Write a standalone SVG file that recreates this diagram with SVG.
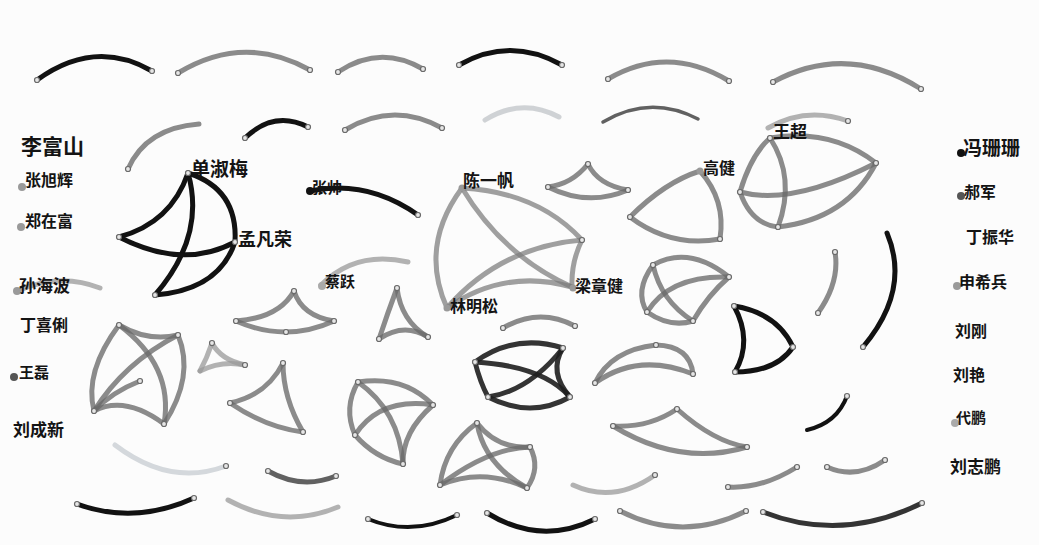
<svg xmlns="http://www.w3.org/2000/svg" width="1039" height="545" viewBox="0 0 1039 545">
<style>
.e{fill:none;stroke-linecap:round;stroke-width:5}
.k{stroke:#121212}
.kd{stroke:#1e1e1e;stroke-opacity:.9}
.d{stroke:#3a3a3a;stroke-opacity:.8}
.g{stroke:#6a6a6a;stroke-opacity:.78}
.m{stroke:#7c7c7c;stroke-opacity:.72}
.l{stroke:#9a9a9a;stroke-opacity:.75}
.vl{stroke:#d4d8dc}
.n{fill:#e6e6e6;stroke:#6a6a6a;stroke-width:1.2}
.t{font-family:"Noto Sans CJK SC","Noto Sans CJK JP",sans-serif;font-weight:700;fill:#141414}
</style>
<rect width="1039" height="545" fill="#fcfcfc"/>
<g id="edges">
<path class="e k" d="M37 80 Q95 38 152 71"/>
<path class="e g" d="M178 73 Q244 33 310 70"/>
<path class="e g" d="M338 72 Q380 44 423 69"/>
<path class="e k" d="M459 65 Q510 36 562 65"/>
<path class="e g" d="M608 79 Q668 44 729 81"/>
<path class="e g" d="M773 82 Q847 42 921 89"/>
<path class="e g" d="M128 169 Q146 128 199 124"/>
<path class="e k" d="M245 138 Q274 110 308 127"/>
<path class="e g" d="M345 130 Q393 101 442 128"/>
<path class="e l" d="M485 120 Q522 97 559 117" style="stroke:#c0c4c8"/>
<path class="e d" d="M603 122 Q650 94 698 119" style="stroke-width:3.5"/>
<path class="e l" d="M768 128 Q806 106 848 121"/>
<path class="e l" d="M17 291 Q60 272 100 288"/>
<path class="e k" d="M188 173 Q171 223 119 237"/>
<path class="e k" d="M188 173 Q238 189 235 242"/>
<path class="e k" d="M188 173 Q206 236 155 295"/>
<path class="e k" d="M119 237 Q183 270 235 242"/>
<path class="e k" d="M235 242 Q219 290 155 295"/>
<path class="e k" d="M310 191 Q367 179 418 215"/>
<path class="e l" d="M321 285 Q356 250 408 262"/>
<path class="e g" d="M294 291 Q279 318 236 321"/>
<path class="e g" d="M294 291 Q302 316 334 321"/>
<path class="e g" d="M236 321 Q286 343 334 321"/>
<path class="e g" d="M397 288 Q388 312 379 339"/>
<path class="e g" d="M397 288 Q401 321 428 337"/>
<path class="e g" d="M379 339 Q404 322 428 337"/>
<path class="e g" d="M119 325 Q148 342 178 335"/>
<path class="e g" d="M119 325 Q84 372 94 411"/>
<path class="e g" d="M119 325 Q174 366 164 424"/>
<path class="e g" d="M178 335 Q195 376 164 424"/>
<path class="e g" d="M178 335 Q124 363 94 411"/>
<path class="e g" d="M140 381 Q112 392 94 411"/>
<path class="e g" d="M94 411 Q125 395 164 424"/>
<path class="e l" d="M212 343 Q221 360 245 365"/>
<path class="e l" d="M212 343 Q207 358 200 371"/>
<path class="e l" d="M200 371 Q222 360 245 365"/>
<path class="e g" d="M283 363 Q267 395 230 403"/>
<path class="e g" d="M283 363 Q283 398 303 432"/>
<path class="e g" d="M230 403 Q267 428 303 432"/>
<path class="e vl" d="M115 445 Q170 487 226 466"/>
<path class="e d" d="M268 471 Q302 490 336 476"/>
<path class="e k" d="M77 504 Q135 525 194 498"/>
<path class="e l" d="M228 500 Q283 530 338 507"/>
<path class="e k" d="M368 519 Q412 537 457 515" style="stroke-width:4"/>
<path class="e k" d="M487 513 Q541 546 595 519"/>
<path class="e g" d="M620 511 Q683 543 746 511"/>
<path class="e kd" d="M763 512 Q842 543 922 503"/>
<path class="e l" d="M573 485 Q614 504 655 475"/>
<path class="e g" d="M728 487 Q762 489 797 467"/>
<path class="e g" d="M827 467 Q856 480 885 460"/>
<path class="e k" d="M807 430 Q837 423 847 396" style="stroke-width:4"/>
<path class="e k" d="M734 306 Q777 313 793 347"/>
<path class="e k" d="M793 347 Q776 372 735 372"/>
<path class="e k" d="M734 306 Q753 341 735 372"/>
<path class="e g" d="M595 383 Q611 350 656 345"/>
<path class="e g" d="M656 345 Q690 346 693 374"/>
<path class="e g" d="M595 383 Q638 352 693 374"/>
<path class="e g" d="M613 426 Q649 428 677 409"/>
<path class="e g" d="M677 409 Q714 442 747 447"/>
<path class="e g" d="M613 426 Q680 467 747 447"/>
<path class="e g" d="M835 252 Q840 282 818 313"/>
<path class="e k" d="M887 233 Q911 290 863 347"/>
<path class="e g" d="M653 265 Q689 245 729 277"/>
<path class="e g" d="M653 265 Q634 291 647 312"/>
<path class="e g" d="M647 312 Q670 328 693 321"/>
<path class="e g" d="M653 265 Q661 301 693 321"/>
<path class="e g" d="M647 312 Q670 275 729 277"/>
<path class="e g" d="M693 321 Q708 295 729 277"/>
<path class="e g" d="M700 171 Q665 182 630 217"/>
<path class="e g" d="M700 171 Q726 200 720 239"/>
<path class="e g" d="M630 217 Q671 248 720 239"/>
<path class="e g" d="M770 138 Q831 128 876 163"/>
<path class="e g" d="M770 138 Q751 155 740 192"/>
<path class="e g" d="M770 138 Q796 178 778 227"/>
<path class="e g" d="M740 192 Q792 206 876 163"/>
<path class="e g" d="M740 192 Q751 224 778 227"/>
<path class="e g" d="M778 227 Q847 219 876 163"/>
<path class="e m" d="M462 188 Q419 246 447 308"/>
<path class="e m" d="M462 188 Q538 192 582 240"/>
<path class="e m" d="M462 188 Q503 256 572 287"/>
<path class="e m" d="M447 308 Q500 247 582 240"/>
<path class="e m" d="M447 308 Q505 268 572 287"/>
<path class="e m" d="M582 240 Q571 262 572 287"/>
<path class="e g" d="M588 164 Q572 184 548 187"/>
<path class="e g" d="M588 164 Q598 185 628 190"/>
<path class="e g" d="M548 187 Q588 207 628 190"/>
<path class="e g" d="M503 328 Q539 307 575 326"/>
<path class="e kd" d="M475 362 Q515 333 563 348"/>
<path class="e kd" d="M475 362 Q480 382 488 397"/>
<path class="e kd" d="M488 397 Q531 419 570 397"/>
<path class="e kd" d="M563 348 Q548 372 570 397"/>
<path class="e kd" d="M475 362 Q543 366 570 397"/>
<path class="e kd" d="M488 397 Q529 391 563 348"/>
<path class="e g" d="M358 382 Q404 375 433 405"/>
<path class="e g" d="M358 382 Q343 408 355 435"/>
<path class="e g" d="M358 382 Q399 411 403 464"/>
<path class="e g" d="M355 435 Q380 397 433 405"/>
<path class="e g" d="M355 435 Q375 458 403 464"/>
<path class="e g" d="M433 405 Q402 432 403 464"/>
<path class="e g" d="M477 423 Q445 446 440 485"/>
<path class="e g" d="M477 423 Q497 449 530 447"/>
<path class="e g" d="M477 423 Q484 464 527 488"/>
<path class="e g" d="M440 485 Q489 448 530 447"/>
<path class="e g" d="M440 485 Q483 467 527 488"/>
<path class="e g" d="M530 447 Q541 468 527 488"/>
</g>
<g id="dots">
<g id="n1"><circle class="n" cx="37" cy="80" r="2.5"/></g>
<g id="n2"><circle class="n" cx="152" cy="71" r="2.5"/></g>
<g id="n3"><circle class="n" cx="178" cy="73" r="2.5"/></g>
<g id="n4"><circle class="n" cx="310" cy="70" r="2.5"/></g>
<g id="n5"><circle class="n" cx="338" cy="72" r="2.5"/></g>
<g id="n6"><circle class="n" cx="423" cy="69" r="2.5"/></g>
<g id="n7"><circle class="n" cx="459" cy="65" r="2.5"/></g>
<g id="n8"><circle class="n" cx="562" cy="65" r="2.5"/></g>
<g id="n9"><circle class="n" cx="608" cy="79" r="2.5"/></g>
<g id="n10"><circle class="n" cx="729" cy="81" r="2.5"/></g>
<g id="n11"><circle class="n" cx="773" cy="82" r="2.5"/></g>
<g id="n12"><circle class="n" cx="921" cy="89" r="2.5"/></g>
<g id="n13"><circle class="n" cx="128" cy="169" r="2.5"/></g>
<g id="n14"><circle class="n" cx="245" cy="138" r="2.5"/></g>
<g id="n15"><circle class="n" cx="308" cy="127" r="2.5"/></g>
<g id="n16"><circle class="n" cx="345" cy="130" r="2.5"/></g>
<g id="n17"><circle class="n" cx="442" cy="128" r="2.5"/></g>
<g id="n18"><circle class="n" cx="848" cy="121" r="2.5"/></g>
<g id="n19"><circle class="n" cx="119" cy="237" r="2.5"/></g>
<g id="n20"><circle class="n" cx="155" cy="295" r="2.5"/></g>
<g id="n21"><circle class="n" cx="418" cy="215" r="2.5"/></g>
<g id="n22"><circle class="n" cx="294" cy="291" r="2.5"/></g>
<g id="n23"><circle class="n" cx="236" cy="321" r="2.5"/></g>
<g id="n24"><circle class="n" cx="334" cy="321" r="2.5"/></g>
<g id="n25"><circle class="n" cx="286" cy="332" r="2.5"/></g>
<g id="n26"><circle class="n" cx="397" cy="288" r="2.5"/></g>
<g id="n27"><circle class="n" cx="379" cy="339" r="2.5"/></g>
<g id="n28"><circle class="n" cx="428" cy="337" r="2.5"/></g>
<g id="n29"><circle class="n" cx="119" cy="325" r="2.5"/></g>
<g id="n30"><circle class="n" cx="178" cy="335" r="2.5"/></g>
<g id="n31"><circle class="n" cx="140" cy="381" r="2.5"/></g>
<g id="n32"><circle class="n" cx="94" cy="411" r="2.5"/></g>
<g id="n33"><circle class="n" cx="164" cy="424" r="2.5"/></g>
<g id="n34"><circle class="n" cx="212" cy="343" r="2.5"/></g>
<g id="n35"><circle class="n" cx="245" cy="365" r="2.5"/></g>
<g id="n36"><circle class="n" cx="283" cy="363" r="2.5"/></g>
<g id="n37"><circle class="n" cx="230" cy="403" r="2.5"/></g>
<g id="n38"><circle class="n" cx="303" cy="432" r="2.5"/></g>
<g id="n39"><circle class="n" cx="226" cy="466" r="2.5"/></g>
<g id="n40"><circle class="n" cx="268" cy="471" r="2.5"/></g>
<g id="n41"><circle class="n" cx="336" cy="476" r="2.5"/></g>
<g id="n42"><circle class="n" cx="77" cy="504" r="2.5"/></g>
<g id="n43"><circle class="n" cx="194" cy="498" r="2.5"/></g>
<g id="n44"><circle class="n" cx="368" cy="519" r="2.5"/></g>
<g id="n45"><circle class="n" cx="457" cy="515" r="2.5"/></g>
<g id="n46"><circle class="n" cx="487" cy="513" r="2.5"/></g>
<g id="n47"><circle class="n" cx="595" cy="519" r="2.5"/></g>
<g id="n48"><circle class="n" cx="620" cy="511" r="2.5"/></g>
<g id="n49"><circle class="n" cx="746" cy="511" r="2.5"/></g>
<g id="n50"><circle class="n" cx="763" cy="512" r="2.5"/></g>
<g id="n51"><circle class="n" cx="922" cy="503" r="2.5"/></g>
<g id="n52"><circle class="n" cx="655" cy="475" r="2.5"/></g>
<g id="n53"><circle class="n" cx="728" cy="487" r="2.5"/></g>
<g id="n54"><circle class="n" cx="797" cy="467" r="2.5"/></g>
<g id="n55"><circle class="n" cx="827" cy="467" r="2.5"/></g>
<g id="n56"><circle class="n" cx="885" cy="460" r="2.5"/></g>
<g id="n57"><circle class="n" cx="595" cy="383" r="2.5"/></g>
<g id="n58"><circle class="n" cx="656" cy="345" r="2.5"/></g>
<g id="n59"><circle class="n" cx="693" cy="374" r="2.5"/></g>
<g id="n60"><circle class="n" cx="613" cy="426" r="2.5"/></g>
<g id="n61"><circle class="n" cx="677" cy="409" r="2.5"/></g>
<g id="n62"><circle class="n" cx="747" cy="447" r="2.5"/></g>
<g id="n63"><circle class="n" cx="835" cy="252" r="2.5"/></g>
<g id="n64"><circle class="n" cx="818" cy="313" r="2.5"/></g>
<g id="n65"><circle class="n" cx="863" cy="347" r="2.5"/></g>
<g id="n66"><circle class="n" cx="653" cy="265" r="2.5"/></g>
<g id="n67"><circle class="n" cx="729" cy="277" r="2.5"/></g>
<g id="n68"><circle class="n" cx="647" cy="312" r="2.5"/></g>
<g id="n69"><circle class="n" cx="693" cy="321" r="2.5"/></g>
<g id="n70"><circle class="n" cx="630" cy="217" r="2.5"/></g>
<g id="n71"><circle class="n" cx="720" cy="239" r="2.5"/></g>
<g id="n72"><circle class="n" cx="876" cy="163" r="2.5"/></g>
<g id="n73"><circle class="n" cx="740" cy="192" r="2.5"/></g>
<g id="n74"><circle class="n" cx="778" cy="227" r="2.5"/></g>
<g id="n75"><circle class="n" cx="582" cy="240" r="2.5"/></g>
<g id="n76"><circle class="n" cx="588" cy="164" r="2.5"/></g>
<g id="n77"><circle class="n" cx="548" cy="187" r="2.5"/></g>
<g id="n78"><circle class="n" cx="628" cy="190" r="2.5"/></g>
<g id="n79"><circle class="n" cx="503" cy="328" r="2.5"/></g>
<g id="n80"><circle class="n" cx="575" cy="326" r="2.5"/></g>
<g id="n81"><circle class="n" cx="475" cy="362" r="2.5"/></g>
<g id="n82"><circle class="n" cx="563" cy="348" r="2.5"/></g>
<g id="n83"><circle class="n" cx="488" cy="397" r="2.5"/></g>
<g id="n84"><circle class="n" cx="570" cy="397" r="2.5"/></g>
<g id="n85"><circle class="n" cx="358" cy="382" r="2.5"/></g>
<g id="n86"><circle class="n" cx="433" cy="405" r="2.5"/></g>
<g id="n87"><circle class="n" cx="355" cy="435" r="2.5"/></g>
<g id="n88"><circle class="n" cx="403" cy="464" r="2.5"/></g>
<g id="n89"><circle class="n" cx="477" cy="423" r="2.5"/></g>
<g id="n90"><circle class="n" cx="530" cy="447" r="2.5"/></g>
<g id="n91"><circle class="n" cx="440" cy="485" r="2.5"/></g>
<g id="n92"><circle class="n" cx="527" cy="488" r="2.5"/></g>
<g id="n93"><circle class="n" cx="847" cy="396" r="2.5"/></g>
<g id="n94"><circle class="n" cx="734" cy="306" r="2.5"/></g>
<g id="n95"><circle class="n" cx="793" cy="347" r="2.5"/></g>
<g id="n96"><circle class="n" cx="735" cy="372" r="2.5"/></g>
</g>
<g id="n-lifushan"><text class="t" x="21" y="154" font-size="21">李富山</text></g>
<g id="n-zhangxuhui"><circle cx="22" cy="187" r="4" fill="#9a9a9a"/><text class="t" x="25" y="186" font-size="16">张旭辉</text></g>
<g id="n-zhengzaifu"><circle cx="21" cy="227" r="4" fill="#9a9a9a"/><text class="t" x="25" y="227" font-size="16">郑在富</text></g>
<g id="n-sunhaibo"><circle cx="17" cy="291" r="4" fill="#9a9a9a"/><text class="t" x="19" y="292" font-size="17">孙海波</text></g>
<g id="n-dingxili"><text class="t" x="20" y="331" font-size="16">丁喜俐</text></g>
<g id="n-wanglei"><circle cx="14" cy="377" r="4" fill="#555"/><text class="t" x="19" y="378" font-size="15">王磊</text></g>
<g id="n-liuchengxin"><text class="t" x="13" y="436" font-size="17">刘成新</text></g>
<g id="n-fengshanshan"><circle cx="961" cy="153" r="4" fill="#111"/><text class="t" x="963" y="155" font-size="19">冯珊珊</text></g>
<g id="n-haojun"><circle cx="961" cy="196" r="4" fill="#555"/><text class="t" x="964" y="198" font-size="16">郝军</text></g>
<g id="n-dingzhenhua"><text class="t" x="966" y="243" font-size="16">丁振华</text></g>
<g id="n-shenxibing"><circle cx="957" cy="286" r="4" fill="#9a9a9a"/><text class="t" x="959" y="288" font-size="16">申希兵</text></g>
<g id="n-liugang"><text class="t" x="955" y="337" font-size="16">刘刚</text></g>
<g id="n-liuyan"><text class="t" x="953" y="381" font-size="16">刘艳</text></g>
<g id="n-daipeng"><circle cx="955" cy="423" r="4" fill="#aaa"/><text class="t" x="956" y="423" font-size="15">代鹏</text></g>
<g id="n-liuzhipeng"><text class="t" x="950" y="473" font-size="17">刘志鹏</text></g>
<g id="n-shanshumei"><circle class="n" cx="188" cy="173" r="2.5"/><text class="t" x="191" y="176" font-size="19">单淑梅</text></g>
<g id="n-mengfanrong"><circle class="n" cx="235" cy="242" r="2.5"/><text class="t" x="238" y="246" font-size="18">孟凡荣</text></g>
<g id="n-zhangshuai"><circle cx="310" cy="191" r="4" fill="#111"/><text class="t" x="312" y="193" font-size="15">张帅</text></g>
<g id="n-caiyue"><circle cx="322" cy="286" r="4" fill="#aaa"/><text class="t" x="325" y="287" font-size="15">蔡跃</text></g>
<g id="n-chenyifan"><circle cx="462" cy="188" r="3.5" fill="#999"/><text class="t" x="463" y="187" font-size="17">陈一帆</text></g>
<g id="n-linmingsong"><circle cx="447" cy="308" r="3.5" fill="#999"/><text class="t" x="450" y="312" font-size="16">林明松</text></g>
<g id="n-liangzhangjian"><circle cx="573" cy="288" r="3.5" fill="#999"/><text class="t" x="575" y="292" font-size="16">梁章健</text></g>
<g id="n-gaojian"><circle cx="700" cy="171" r="3.5" fill="#999"/><text class="t" x="703" y="174" font-size="16">高健</text></g>
<g id="n-wangchao"><circle class="n" cx="770" cy="138" r="2.5"/><text class="t" x="773" y="138" font-size="17">王超</text></g>
</svg>
